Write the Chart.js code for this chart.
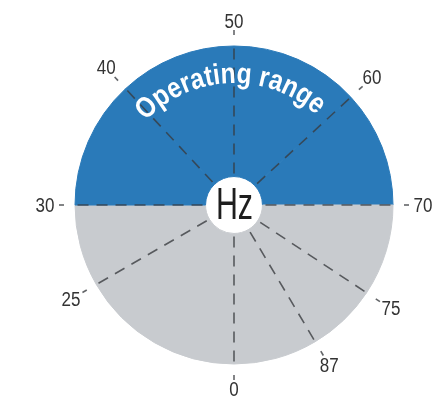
<!DOCTYPE html>
<html>
<head>
<meta charset="utf-8">
<script src="https://cdn.jsdelivr.net/npm/chart.js@4"></script>
<style>
html,body{margin:0;padding:0;background:#ffffff;}
#wrap{width:446px;height:401px;position:relative;}
</style>
</head>
<body>
<div id="wrap"><canvas id="c"></canvas></div>
<script>
// ---- data ----
const tickLabels = ['0', '25', '30', '40', '50', '60', '70', '75', '87'];
const tickValues = [0, 25, 30, 40, 50, 60, 70, 75, 87];
// position of each tick on the dial, degrees clockwise from the bottom
const tickAngles = [0, 60, 90, 137, 180, 227.3, 270, 303.5, 329.3];
const operatingRange = [30, 70];
const rangeTitle = 'Operating range';
const centerUnit = 'Hz';

// ---- styles ----
const BLUE = '#2a7ab9';
const GRAY = '#c8cbcf';
const LINE = 'rgba(55,58,62,0.78)';
const LABEL = '#333333';

const segmentSizes = tickAngles.map((a, i) => (i < tickAngles.length - 1 ? tickAngles[i + 1] : 360) - a);
const segmentColors = tickValues.map(v => (v >= operatingRange[0] && v < operatingRange[1]) ? BLUE : GRAY);

function drawArcText(ctx, text, cx, cy, r, centerAngle, font, targetWidth) {
  ctx.font = font;
  const chars = [...text];
  const raw = chars.map(ch => ctx.measureText(ch).width);
  const total = raw.reduce((s, w) => s + w, 0);
  const sx = targetWidth / total;
  let a = centerAngle - targetWidth / (2 * r);
  ctx.textAlign = 'center';
  ctx.textBaseline = 'alphabetic';
  chars.forEach((ch, i) => {
    const w = raw[i] * sx;
    const mid = a + w / (2 * r);
    ctx.save();
    ctx.translate(cx + r * Math.cos(mid), cy + r * Math.sin(mid));
    ctx.rotate(mid + Math.PI / 2);
    ctx.scale(sx, 1);
    ctx.fillText(ch, 0, 0);
    ctx.restore();
    a += w / r;
  });
}

const gaugePlugin = {
  id: 'gauge',
  afterDatasetsDraw(chart) {
    const ctx = chart.ctx;
    const arcs = chart.getDatasetMeta(0).data;
    const cx = arcs[0].x, cy = arcs[0].y;
    const R = arcs[0].outerRadius, r0 = arcs[0].innerRadius;
    ctx.save();
    ctx.strokeStyle = LINE;
    ctx.lineWidth = 1.6;
    arcs.forEach((arc, i) => {
      const a = arc.startAngle;
      const c = Math.cos(a), s = Math.sin(a);
      ctx.setLineDash([11, 8]);
      ctx.beginPath();
      ctx.moveTo(cx + c * (r0 + 3), cy + s * (r0 + 3));
      ctx.lineTo(cx + c * R, cy + s * R);
      ctx.stroke();
      ctx.setLineDash([]);
      ctx.beginPath();
      ctx.moveTo(cx + c * (R + 11), cy + s * (R + 11));
      ctx.lineTo(cx + c * (R + 16), cy + s * (R + 16));
      ctx.stroke();
      const lr = R + 25 + 5 * Math.abs(c);
      ctx.save();
      ctx.translate(cx + c * lr, cy + s * lr);
      ctx.scale(0.85, 1);
      ctx.fillStyle = LABEL;
      ctx.font = '20px "Liberation Sans", Arial, sans-serif';
      ctx.textAlign = 'center';
      ctx.textBaseline = 'middle';
      ctx.fillText(tickLabels[i], 0, 1);
      ctx.restore();
    });
    // curved title over the operating range
    ctx.fillStyle = '#ffffff';
    const titleR = R - 37;
    drawArcText(ctx, rangeTitle, cx, cy, titleR, -92 * Math.PI / 180,
      'bold 29px "Liberation Sans", Arial, sans-serif', titleR * 89 * Math.PI / 180);
    // unit in the center
    ctx.save();
    ctx.translate(cx + 0.5, cy + 13.5);
    ctx.scale(0.69, 1);
    ctx.fillStyle = '#1e1e1e';
    ctx.font = '44px "Liberation Sans", Arial, sans-serif';
    ctx.textAlign = 'center';
    ctx.textBaseline = 'alphabetic';
    ctx.fillText(centerUnit, 0, 0);
    ctx.restore();
    ctx.restore();
  }
};

new Chart(document.getElementById('c'), {
  type: 'doughnut',
  data: {
    labels: tickLabels,
    datasets: [{
      data: segmentSizes,
      backgroundColor: segmentColors,
      borderColor: segmentColors,
      borderWidth: 1,
      hoverOffset: 0
    }]
  },
  options: {
    responsive: true,
    maintainAspectRatio: false,
    animation: false,
    rotation: 180,
    radius: 159,
    cutout: 35,
    layout: { padding: { left: 22, right: 0, top: 9, bottom: 0 } },
    plugins: { legend: { display: false }, tooltip: { enabled: false } },
    events: []
  },
  plugins: [gaugePlugin]
});
</script>
</body>
</html>
